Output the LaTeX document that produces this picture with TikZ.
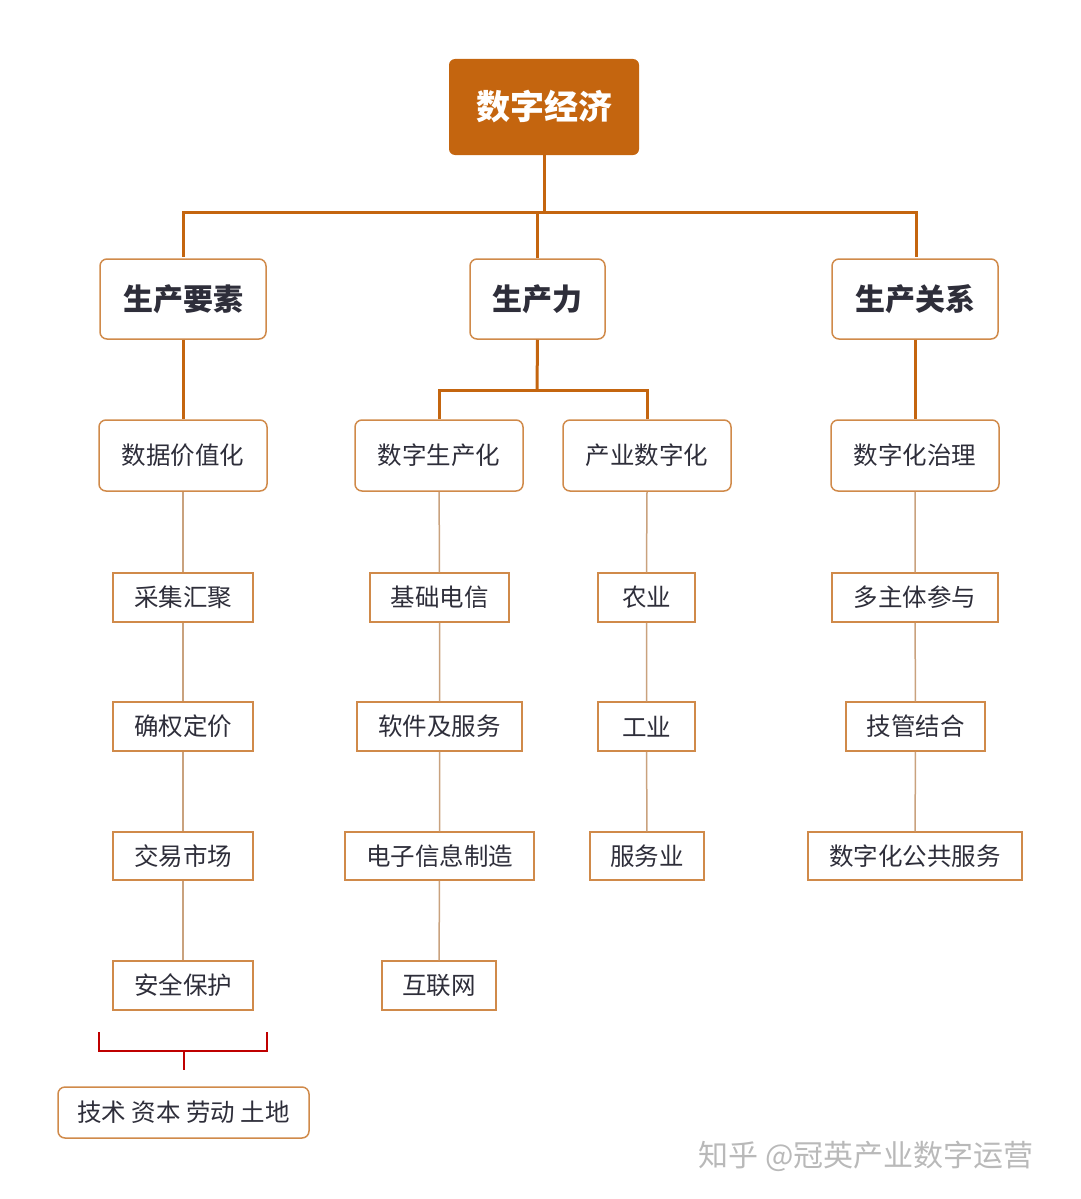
\documentclass[tikz,border=0pt]{standalone}
\usepackage{fontspec}
\setmainfont{Noto Sans CJK SC}
\begin{document}
\begin{tikzpicture}[x=1pt,y=-1pt,
  top/.style={draw=none,fill=topc,rounded corners=6pt,text=white,font=\fontsize{34}{38}\selectfont\bfseries},
  l2/.style={draw=linec,line width=1.5pt,fill=white,rounded corners=7pt,text=txtc,font=\fontsize{30}{34}\selectfont\bfseries},
  l3/.style={draw=linec,line width=1.5pt,fill=white,rounded corners=7pt,text=txtc,font=\fontsize{24.5}{28}\selectfont},
  l4/.style={draw=linec,line width=1.5pt,fill=white,text=txtc,font=\fontsize{24.5}{28}\selectfont},
  thick line/.style={draw=topc,line width=3pt},
  thin line/.style={draw=thinc,line width=1.5pt}]
\definecolor{topc}{HTML}{C4650F}
\definecolor{linec}{HTML}{D08A4A}
\definecolor{thinc}{HTML}{C9A27E}
\definecolor{txtc}{HTML}{2E2E3A}
\useasboundingbox (0,0) rectangle (1080,1199);
\newcommand{\bx}[7]{\node[#1,minimum width=#4-#3,minimum height=#6-#5,inner sep=0pt] (#2) at ({(#3+#4)/2},{(#5+#6)/2+2}) {#7};}
\bx{top}{root}{449}{639}{57}{153}{数字经济}
\bx{l2}{a}{100}{266}{257}{337}{生产要素}
\bx{l2}{b}{470}{605}{257}{337}{生产力}
\bx{l2}{c}{832}{998}{257}{337}{生产关系}
\bx{l3}{a1}{99}{267}{418}{489}{数据价值化}
\bx{l3}{b1}{355}{523}{418}{489}{数字生产化}
\bx{l3}{b2}{563}{731}{418}{489}{产业数字化}
\bx{l3}{c1}{831}{999}{418}{489}{数字化治理}
\bx{l4}{a2}{113}{253}{571}{620}{采集汇聚}
\bx{l4}{a3}{113}{253}{700}{749}{确权定价}
\bx{l4}{a4}{113}{253}{830}{878}{交易市场}
\bx{l4}{a5}{113}{253}{959}{1008}{安全保护}
\bx{l4}{p2}{370}{509}{571}{620}{基础电信}
\bx{l4}{p3}{357}{522}{700}{749}{软件及服务}
\bx{l4}{p4}{345}{534}{830}{878}{电子信息制造}
\bx{l4}{p5}{382}{496}{959}{1008}{互联网}
\bx{l4}{q2}{598}{695}{571}{620}{农业}
\bx{l4}{q3}{598}{695}{700}{749}{工业}
\bx{l4}{q4}{590}{704}{830}{878}{服务业}
\bx{l4}{r2}{832}{998}{571}{620}{多主体参与}
\bx{l4}{r3}{846}{985}{700}{749}{技管结合}
\bx{l4}{r4}{808}{1022}{830}{878}{数字化公共服务}
\bx{l3}{base}{58}{309}{1085}{1136}{技术 资本 劳动 土地}
% thick connectors
\draw[thick line] (root.south) -- (544,212) coordinate (j);
\draw[thick line] (183,257) |- (j) -| (916,257);
\draw[thick line] (j -| b.north) -- (b.north);
\draw[thick line] (a.south) -- (a1.north);
\draw[thick line] (c.south) -- (c1.north);
\draw[thick line] (b.south) -- (537,390) coordinate (k);
\draw[thick line] (b1.north) |- (k) -| (b2.north);
% thin connectors
\draw[thin line] (a1) -- (a2) (a2) -- (a3) (a3) -- (a4) (a4) -- (a5);
\draw[thin line] (b1) -- (p2) (p2) -- (p3) (p3) -- (p4) (p4) -- (p5);
\draw[thin line] (b2.south) -- (q2.north) (q2) -- (q3) (q3) -- (q4);
\draw[thin line] (c1) -- (r2) (r2) -- (r3) (r3) -- (r4);
% bracket
\coordinate (bt) at (184,1070);
\draw[draw=red!75!black,line width=1.3pt] (99,1032) -- (99,1051) -- (267,1051) -- (267,1032) (184,1051) -- (bt);
\node[text=gray!55,font=\fontsize{30}{34}\selectfont,anchor=west] (wm) at (695,1156) {知乎 @冠英产业数字运营};
\end{tikzpicture}
\end{document}
